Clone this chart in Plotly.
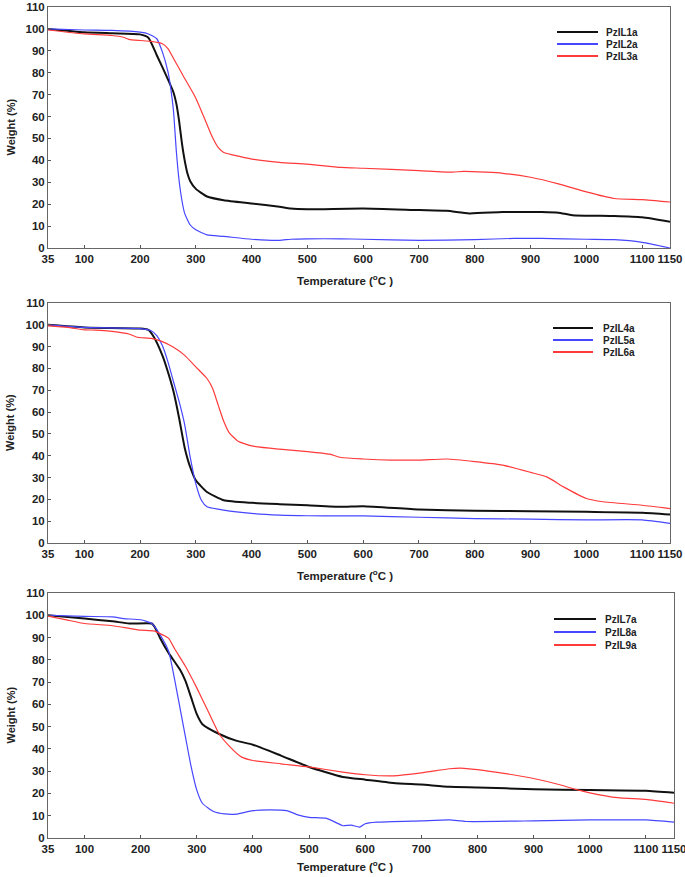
import plotly.graph_objects as go

# ---------------- data ----------------
# Panel 1
t_L1 = [35, 100, 150, 200, 215, 230, 250, 260, 265, 270, 275, 280, 285, 290, 300, 320, 350, 400, 450, 470, 500, 600, 700, 750, 790, 850, 920, 950, 975, 1050, 1100, 1150]
w_L1 = [100, 98.5, 98, 97.5, 96, 88, 77, 71, 66, 58, 48, 40, 34, 30.5, 27, 23.5, 21.8, 20.3, 18.8, 18, 17.7, 18, 17.3, 17, 15.8, 16.4, 16.4, 16.1, 15, 14.6, 14, 12]
t_L2 = [35, 100, 150, 200, 215, 230, 240, 250, 255, 260, 265, 270, 275, 280, 290, 300, 320, 350, 400, 450, 470, 500, 560, 600, 700, 800, 870, 920, 1000, 1050, 1100, 1150]
w_L2 = [100, 99.5, 99.3, 98.5, 97.7, 95.5, 89.5, 80.5, 73, 62.4, 44.4, 30.8, 21.8, 15.8, 10.5, 8.3, 6, 5.3, 4, 3.5, 4, 4.2, 4.2, 4, 3.5, 3.8, 4.4, 4.4, 4, 3.8, 2.6, 0]
t_L3 = [35, 100, 150, 170, 180, 200, 220, 240, 250, 260, 280, 300, 320, 330, 340, 350, 380, 400, 450, 500, 560, 600, 700, 760, 780, 820, 850, 900, 950, 1000, 1050, 1100, 1150]
w_L3 = [99.5, 97.7, 97, 96.2, 95.2, 94.7, 94.3, 93.2, 91, 86.5, 77.4, 68.4, 56.4, 50.4, 45.9, 43.6, 41.7, 40.6, 39.1, 38.3, 36.8, 36.4, 35.3, 34.6, 35, 34.6, 34.1, 32.3, 29.3, 25.6, 22.6, 22.1, 21]

# Panel 2
t_L4 = [35, 100, 200, 215, 225, 240, 250, 260, 270, 280, 290, 300, 320, 350, 400, 450, 500, 560, 600, 700, 800, 900, 1000, 1100, 1150]
w_L4 = [100, 98.8, 98.3, 97.7, 94.3, 86, 78.4, 69.4, 57.3, 43.7, 34.7, 28.7, 23.4, 19.6, 18.4, 17.8, 17.3, 16.6, 16.9, 15.4, 14.8, 14.6, 14.3, 13.9, 13.1]
t_L5 = [35, 100, 200, 220, 230, 240, 250, 260, 270, 280, 290, 300, 310, 320, 350, 400, 450, 500, 560, 600, 700, 800, 900, 1000, 1100, 1150]
w_L5 = [100, 98.8, 98.3, 97.3, 95, 90.5, 83, 73.9, 64.9, 54.3, 39.2, 27.1, 19.6, 16.6, 15.1, 13.6, 12.8, 12.5, 12.4, 12.4, 11.8, 11.2, 10.9, 10.6, 10.6, 9.0]
t_L6 = [35, 70, 100, 120, 150, 180, 195, 220, 240, 260, 280, 300, 320, 330, 340, 350, 360, 375, 400, 450, 500, 540, 560, 600, 650, 700, 750, 800, 850, 900, 930, 960, 1000, 1030, 1100, 1150]
w_L6 = [99.5, 98.8, 97.7, 97.6, 97, 95.8, 94.3, 93.8, 92.3, 89.7, 86, 80.7, 75.4, 70.9, 63.3, 55.8, 50.5, 46.8, 44.5, 43, 41.9, 40.7, 39.2, 38.5, 38, 38, 38.5, 37.3, 35.7, 32.4, 30.2, 25.6, 20.4, 18.9, 17.3, 15.8]

# Panel 3
t_L7 = [35, 100, 150, 180, 220, 225, 235, 250, 270, 280, 290, 300, 310, 340, 370, 400, 450, 500, 560, 600, 650, 700, 750, 800, 900, 1000, 1100, 1150]
w_L7 = [100, 98.5, 97.3, 96.3, 96.3, 94.8, 89.6, 83, 75.6, 70.4, 63, 55.6, 51.1, 46.7, 43.7, 41.9, 37, 31.9, 27.4, 26.2, 24.7, 24, 23, 22.7, 21.9, 21.5, 21.2, 20.3]
t_L8 = [35, 100, 150, 170, 200, 220, 235, 250, 260, 270, 280, 290, 300, 310, 330, 350, 370, 400, 430, 460, 480, 500, 530, 550, 560, 575, 590, 600, 620, 700, 750, 780, 900, 1000, 1100, 1150]
w_L8 = [100, 99.5, 99.3, 98.5, 98, 96.3, 91.1, 83.7, 71.9, 58.5, 45.2, 31.9, 21.5, 15.6, 11.9, 10.8, 10.7, 12.3, 12.6, 12.3, 10.4, 9.3, 8.9, 6.7, 5.5, 5.8, 4.9, 6.4, 7.1, 7.7, 8.1, 7.4, 7.7, 8.1, 8.1, 7.1]
t_L9 = [35, 70, 100, 150, 180, 200, 225, 240, 250, 260, 280, 300, 320, 340, 360, 380, 400, 450, 500, 560, 600, 650, 700, 750, 770, 800, 850, 900, 950, 975, 1000, 1050, 1100, 1150]
w_L9 = [99.6, 97.8, 96.3, 95.3, 94.1, 93.3, 92.9, 91.1, 89.6, 85.2, 77, 67.4, 57, 46.7, 40.7, 36.3, 34.8, 33.3, 31.9, 29.6, 28.4, 27.9, 29.2, 31.1, 31.4, 30.7, 28.9, 26.7, 23.7, 21.8, 20.3, 18.1, 17.3, 15.6]

x_ticks = [35, 100, 200, 300, 400, 500, 600, 700, 800, 900, 1000, 1100, 1150]
y_ticks = [0, 10, 20, 30, 40, 50, 60, 70, 80, 90, 100, 110]

panels = [
    [("PzIL1a", t_L1, w_L1), ("PzIL2a", t_L2, w_L2), ("PzIL3a", t_L3, w_L3)],
    [("PzIL4a", t_L4, w_L4), ("PzIL5a", t_L5, w_L5), ("PzIL6a", t_L6, w_L6)],
    [("PzIL7a", t_L7, w_L7), ("PzIL8a", t_L8, w_L8), ("PzIL9a", t_L9, w_L9)],
]

# ---------------- layout geometry ----------------
W, H = 685, 877
colors = ["#111111", "#4646ff", "#ff3a3a"]
widths = [2.0, 1.2, 1.2]
# pixel boxes: (left, right, top, bottom)
boxes = [(48, 670, 7, 248), (48, 670, 303, 543), (48, 674, 593, 838)]
# legend: (line x0, line x1, text x, first row y, row step)
legends = [(557, 598, 604, 32, 12), (553, 593, 601, 328, 12), (554, 596, 603, 619, 13)]
xtitle_y = [280, 575, 866]

FONT = "Liberation Sans, Arial, sans-serif"
tickfont = dict(family=FONT, size=11.5, color="#222222")

fig = go.Figure()
layout = dict(
    width=W, height=H,
    margin=dict(l=0, r=0, t=0, b=0, autoexpand=False),
    paper_bgcolor="white", plot_bgcolor="white",
    showlegend=False,
    font=dict(family=FONT),
)
shapes = []
annotations = []

for i, (series, box) in enumerate(zip(panels, boxes)):
    sfx = "" if i == 0 else str(i + 1)
    for j, (name, t, w) in enumerate(series):
        fig.add_trace(go.Scatter(
            x=t, y=w, mode="lines", name=name,
            line=dict(color=colors[j], width=widths[j], shape="spline", smoothing=0.5),
            xaxis=f"x{sfx}", yaxis=f"y{sfx}",
        ))
    l, r, tp, bt = box
    layout[f"xaxis{sfx}"] = dict(
        domain=[l / W, r / W], range=[35, 1150], anchor=f"y{sfx}", automargin=False,
        tickmode="array", tickvals=x_ticks, ticktext=[f"<b>{v}</b>" for v in x_ticks],
        tickfont=tickfont, ticks="inside", ticklen=3, tickcolor="#555555",
        ticklabeloverflow="allow",
        showline=True, linecolor="#666666", linewidth=1, mirror=True,
        showgrid=False, zeroline=False,
    )
    layout[f"yaxis{sfx}"] = dict(
        domain=[1 - bt / H, 1 - tp / H], range=[0, 110], anchor=f"x{sfx}", automargin=False,
        tickmode="array", tickvals=y_ticks, ticktext=[f"<b>{v}</b>" for v in y_ticks],
        tickfont=tickfont, ticks="inside", ticklen=3, tickcolor="#555555",
        ticklabeloverflow="allow",
        showline=True, linecolor="#666666", linewidth=1, mirror=True,
        showgrid=False, zeroline=False,
    )
    # axis titles
    annotations.append(dict(
        text="<b>Temperature (<sup>o</sup>C )</b>", xref="paper", yref="paper",
        x=345 / W, y=1 - xtitle_y[i] / H, xanchor="center", yanchor="middle",
        showarrow=False, font=dict(family=FONT, size=11.5, color="#222222"),
    ))
    annotations.append(dict(
        text="<b>Weight (%)</b>", xref="paper", yref="paper",
        x=10 / W, y=1 - ((tp + bt) / 2) / H, xanchor="center", yanchor="middle",
        textangle=-90, showarrow=False, font=dict(family=FONT, size=11, color="#222222"),
    ))
    # legend
    lx0, lx1, tx, ry, step = legends[i]
    for j, (name, _, _) in enumerate(series):
        yy = 1 - (ry + j * step) / H
        shapes.append(dict(type="line", xref="paper", yref="paper",
                           x0=lx0 / W, x1=lx1 / W, y0=yy, y1=yy,
                           line=dict(color=colors[j], width=2)))
        annotations.append(dict(
            text=f"<b>{name}</b>", xref="paper", yref="paper",
            x=tx / W, y=yy, xanchor="left", yanchor="middle",
            showarrow=False, font=dict(family=FONT, size=10, color="#222222"),
        ))

layout["shapes"] = shapes
layout["annotations"] = annotations
fig.update_layout(**layout)
fig.write_html("out.html", config={"displayModeBar": False},
               post_script="document.body.style.margin='0px';")
